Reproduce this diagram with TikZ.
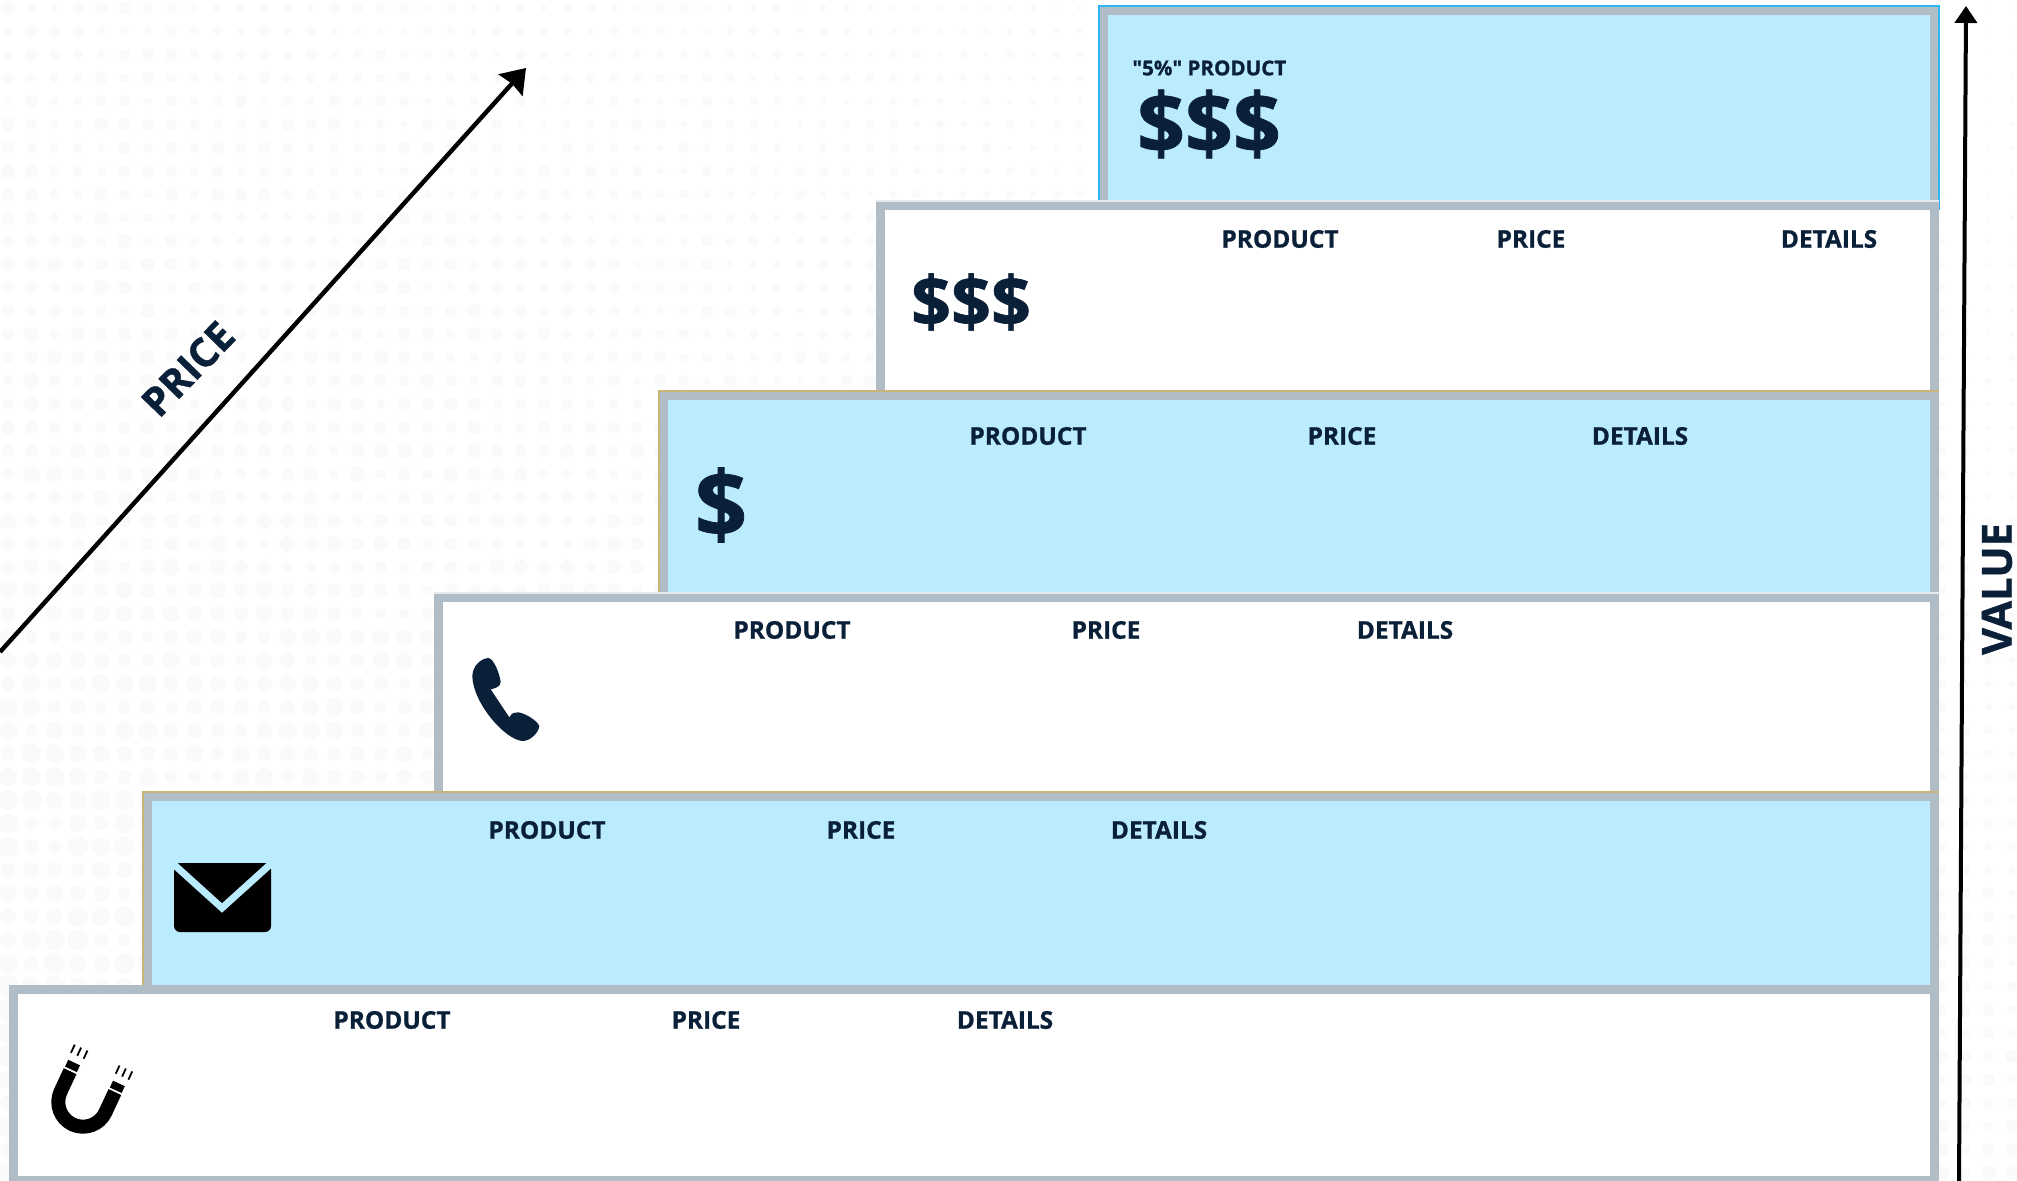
\documentclass[tikz,border=0pt]{standalone}
\usepackage{fontspec}
\setmainfont{Open Sans}[BoldFeatures={FakeBold=0.9}]
\usetikzlibrary{arrows.meta}

\definecolor{navy}{HTML}{0A2039}
\definecolor{boxblue}{HTML}{BBEBFF}
\definecolor{boxedge}{HTML}{B0BCC6}
\definecolor{edgeblue}{HTML}{2DB7F5}
\definecolor{edgegold}{HTML}{C9B57A}
\definecolor{edgelight}{HTML}{E6EAED}
\definecolor{dotgray}{HTML}{FAFAFA}

\tikzstyle{block} = [draw=boxedge, line width=4.5pt, rectangle, inner sep=0pt,
    anchor=north west]
\tikzstyle{blueblock} = [block, fill=boxblue]
\tikzstyle{whiteblock} = [block, fill=white]
\tikzstyle{hair} = [line width=0.6pt]
\tikzstyle{collabel} = [text=navy, inner sep=0pt,
    font=\bfseries\fontsize{12.2}{15}\selectfont]
\tikzstyle{money} = [text=navy, inner sep=0pt, font=\bfseries]

\begin{document}
\begin{tikzpicture}[x=0.5pt, y=0.5pt]
          \useasboundingbox (0,0) rectangle (2017,-1181);

          % faint dots behind everything
          \pgfmathsetseed{7}
          \foreach \i in {0,...,86} {
            \foreach \j in {0,...,50} {
              \pgfmathsetmacro{\rad}{(1.5+11*(0.45*(1-\i/86)+0.55*\j/50))*(0.6+0.4*rnd)}
              \fill [dotgray] (\i*23.3+8,-\j*23.3-8) circle (\rad);
            }
          }

          % steps, top one first
          \node (stepa) [blueblock, minimum width=415.5pt, minimum height=97.5pt] at (1099,-6) {};
          \draw [hair, edgeblue] (stepa.south west) |- (stepa.north east) -- (stepa.south east);
          \node (stepb) [whiteblock, minimum width=527pt, minimum height=95pt] at (876,-201) {};
          \draw [hair, edgelight] (stepb.north west) -- (stepb.north east);
          \node (stepc) [blueblock, minimum width=635.5pt, minimum height=101pt] at (659,-391) {};
          \draw [hair, edgegold] (stepc.south west) |- (stepc.north east);
          \node (stepd) [whiteblock, minimum width=748pt, minimum height=99.5pt] at (434,-593) {};
          \draw [hair, edgelight] (stepd.north west) -- (stepd.north east);
          \node (stepe) [blueblock, minimum width=893.5pt, minimum height=96.5pt] at (143,-792) {};
          \draw [hair, edgegold] (stepe.south west) |- (stepe.north east);
          \node (stepf) [whiteblock, minimum width=960.5pt, minimum height=95.5pt] at (9,-985) {};

          % labels
          \node (fivepct) [text=navy, inner sep=0pt, anchor=west, font=\bfseries\fontsize{10.3}{12}\selectfont] at (1132,-68) {\textquotedbl5\%\textquotedbl{} PRODUCT};
          \node (moneya) [money, font=\bfseries\fontsize{42}{50}\selectfont] at (1209,-124) {\$\$\$};

          \node (prodb) [collabel] at (1280,-239) {PRODUCT};
          \node (priceb) [collabel] at (1531,-239) {PRICE};
          \node (detb) [collabel] at (1829,-239) {DETAILS};
          \node (moneyb) [money, font=\bfseries\fontsize{35}{42}\selectfont] at (971,-302) {\$\$\$};

          \node (prodc) [collabel] at (1028,-436) {PRODUCT};
          \node (pricec) [collabel] at (1342,-436) {PRICE};
          \node (detc) [collabel] at (1640,-436) {DETAILS};
          \node (moneyc) [money, font=\bfseries\fontsize{46}{56}\selectfont] at (721,-505) {\$};

          \node (prodd) [collabel] at (792,-630) {PRODUCT};
          \node (priced) [collabel] at (1106,-630) {PRICE};
          \node (detd) [collabel] at (1405,-630) {DETAILS};

          \node (prode) [collabel] at (547,-830) {PRODUCT};
          \node (pricee) [collabel] at (861,-830) {PRICE};
          \node (dete) [collabel] at (1159,-830) {DETAILS};

          \node (prodf) [collabel] at (392,-1020) {PRODUCT};
          \node (pricef) [collabel] at (706,-1020) {PRICE};
          \node (detf) [collabel] at (1005,-1020) {DETAILS};

          % axes
          \coordinate (pricefoot) at (0,-652);
          \coordinate (pricetip) at (526,-68);
          \coordinate (valuefoot) at (1959,-1181);
          \coordinate (valuetip) at (1966,-6);
          \draw [black, line width=2.2pt, -{Stealth[length=11.5pt,width=16pt,inset=1pt]}] (pricefoot) -- (pricetip);
          \draw [black, line width=2pt, -{Stealth[length=8.5pt,width=11pt,inset=0pt]}] (valuefoot) -- (valuetip);
          \node (pricelabel) [text=navy, inner sep=0pt, rotate=46, font=\bfseries\fontsize{20}{24}\selectfont] at (188,-369) {PRICE};
          \node (valuelabel) [text=navy, inner sep=0pt, rotate=90, font=\bfseries\fontsize{20.8}{25}\selectfont] at (1997,-589) {VALUE};

          % phone
          \begin{scope}[shift={(420,-580)}, scale=1/3, yscale=-1]
            \fill [navy] (205,234) .. controls (222,236) and (238,280) .. (242,305)
              .. controls (243,320) and (225,325) .. (212,328) -- (268,412)
              .. controls (275,398) and (285,396) .. (295,397)
              .. controls (315,400) and (350,420) .. (358,438)
              .. controls (355,460) and (330,483) .. (308,483)
              .. controls (255,480) and (160,370) .. (157,290)
              .. controls (157,260) and (180,236) .. (205,234) -- cycle;
          \end{scope}

          % envelope
          \fill [black, rounded corners=3pt] (174,-863) rectangle (271,-932);
          \draw [boxblue, line width=3.5pt] (170,-861) -- (222,-908) -- (274,-861);

          % magnet
          \begin{scope}[shift={(83,-1102)}, rotate=-25]
            \draw [black, line width=7pt] (-24.7,22.5) -- (-24.7,0) arc (180:360:24.7) -- (24.7,22.5);
            \draw [black, line width=6.5pt] (-24.7,24.5) -- (-24.7,32);
            \draw [black, line width=6.5pt] (24.7,24.5) -- (24.7,32);
            \foreach \sx in {-24.7,24.7} {
              \foreach \dx in {-7,0,7} {
                \draw [black, line width=0.9pt] (\sx+\dx,39.5) -- (\sx+\dx,48.5);
              }
            }
          \end{scope}
        \end{tikzpicture}
\end{document}
